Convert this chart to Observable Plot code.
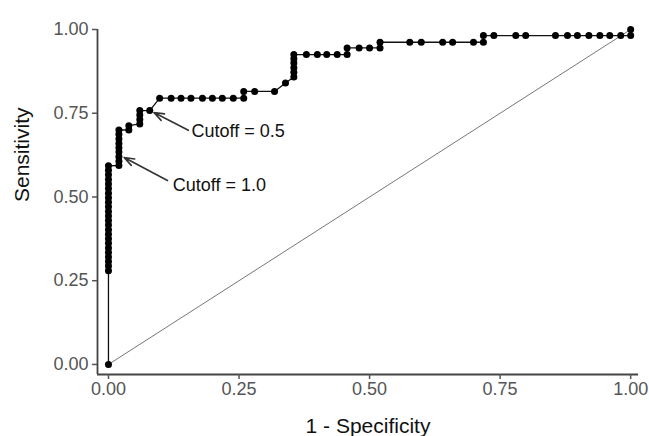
<!DOCTYPE html>
<html><head><meta charset="utf-8">
<script src="https://cdn.jsdelivr.net/npm/d3@7"></script>
<script src="https://cdn.jsdelivr.net/npm/@observablehq/plot@0.6"></script>
<style>body{margin:0;background:#fff;} svg{display:block;}</style>
</head><body><div id="chart"></div>
<script>
// ROC curve points (1 - specificity, sensitivity)
const fpr = [0,
  0,0,0,0,0,0,0,0,0,0,0,0,0,0,0,0,0,0,0,0,0,0,0,0,
  0.02,0.02,0.02,0.02,0.02,0.02,0.02,0.02,0.02,
  0.039,0.039,
  0.06,0.06,0.06,0.06,
  0.079,
  0.098,0.120,0.139,0.158,0.180,0.199,0.218,0.239,0.259,
  0.259,0.280,0.318,0.339,
  0.355,0.355,0.355,0.355,0.355,0.355,
  0.379,0.400,0.418,0.438,0.457,
  0.457,0.480,0.500,0.520,
  0.520,0.577,0.599,0.640,0.659,0.699,0.718,
  0.718,0.738,0.780,0.799,0.856,0.879,0.898,0.920,0.941,0.960,0.981,1.0,
  1.0];
const tpr = [0,
  0.280,0.294,0.307,0.321,0.334,0.348,0.362,0.375,0.389,0.402,0.416,0.430,0.443,0.457,0.471,0.484,0.498,0.511,0.525,0.539,0.552,0.566,0.580,0.593,
  0.594,0.607,0.620,0.634,0.647,0.660,0.673,0.687,0.700,
  0.700,0.713,
  0.718,0.731,0.745,0.758,
  0.758,
  0.795,0.795,0.795,0.795,0.795,0.795,0.795,0.795,0.795,
  0.815,0.815,0.815,0.840,
  0.858,0.872,0.886,0.900,0.913,0.925,
  0.925,0.925,0.925,0.925,0.925,
  0.945,0.945,0.945,0.945,
  0.962,0.962,0.962,0.962,0.962,0.962,0.962,
  0.982,0.982,0.982,0.982,0.982,0.982,0.982,0.982,0.982,0.982,0.982,0.982,
  1.0];

// chance diagonal
const diagX = [0, 1];
const diagY = [0, 1];

// axis ticks
const tickValues = [0, 0.25, 0.5, 0.75, 1];
const xTitle = "1 - Specificity";
const yTitle = "Sensitivity";

// annotations
const annotLabels = ["Cutoff = 0.5", "Cutoff = 1.0"];
const annotTextX = [0.159, 0.123];
const annotTextY = [0.696, 0.534];
const arrowFromX = [0.153, 0.113];
const arrowFromY = [0.699, 0.549];
const arrowToX = [0.087, 0.030];
const arrowToY = [0.752, 0.618];

const pts = fpr.map((x, i) => ({x, y: tpr[i]}));
const diag = diagX.map((x, i) => ({x, y: diagY[i]}));
const annots = annotLabels.map((label, i) => ({
  label, tx: annotTextX[i], ty: annotTextY[i],
  x1: arrowFromX[i], y1: arrowFromY[i], x2: arrowToX[i], y2: arrowToY[i]
}));

const xMin = -0.021, yMin = -0.03;

const chart = Plot.plot({
  width: 649,
  height: 436,
  marginLeft: 97,
  marginRight: 11,
  marginTop: 29,
  marginBottom: 62,
  style: {fontFamily: "'Liberation Sans', Arial, sans-serif", background: "#fff"},
  x: {domain: [xMin, 1.015]},
  y: {domain: [yMin, 1]},
  marks: [
    Plot.ruleX([xMin], {y1: yMin, y2: 1, stroke: "#444", strokeWidth: 1.8}),
    Plot.ruleY([yMin], {stroke: "#444", strokeWidth: 1.8}),
    Plot.axisX({ticks: tickValues, tickFormat: d3.format(".2f"), tickSize: 5, tickPadding: 3,
      fontSize: 18, color: "#555", label: null, strokeWidth: 1.5}),
    Plot.axisY({ticks: tickValues, tickFormat: d3.format(".2f"), tickSize: 5, tickPadding: 4,
      fontSize: 18, color: "#555", label: null, strokeWidth: 1.5}),
    Plot.text([xTitle], {frameAnchor: "bottom", dy: 58, fontSize: 21, fill: "#111"}),
    Plot.text([yTitle], {frameAnchor: "left", dx: -75, rotate: -90, fontSize: 21, fill: "#111"}),
    Plot.line(diag, {x: "x", y: "y", stroke: "#777", strokeWidth: 1}),
    Plot.line(pts, {x: "x", y: "y", stroke: "#111", strokeWidth: 1.3}),
    Plot.dot(pts, {x: "x", y: "y", r: 3.5, fill: "#000", stroke: "none"}),
    Plot.arrow(annots, {x1: "x1", y1: "y1", x2: "x2", y2: "y2", stroke: "#333", strokeWidth: 1.6, headLength: 10, headAngle: 40}),
    Plot.text(annots, {x: "tx", y: "ty", text: "label", textAnchor: "start", fontSize: 18, fill: "#111"})
  ]
});
document.getElementById("chart").appendChild(chart);
</script>
</body></html>
